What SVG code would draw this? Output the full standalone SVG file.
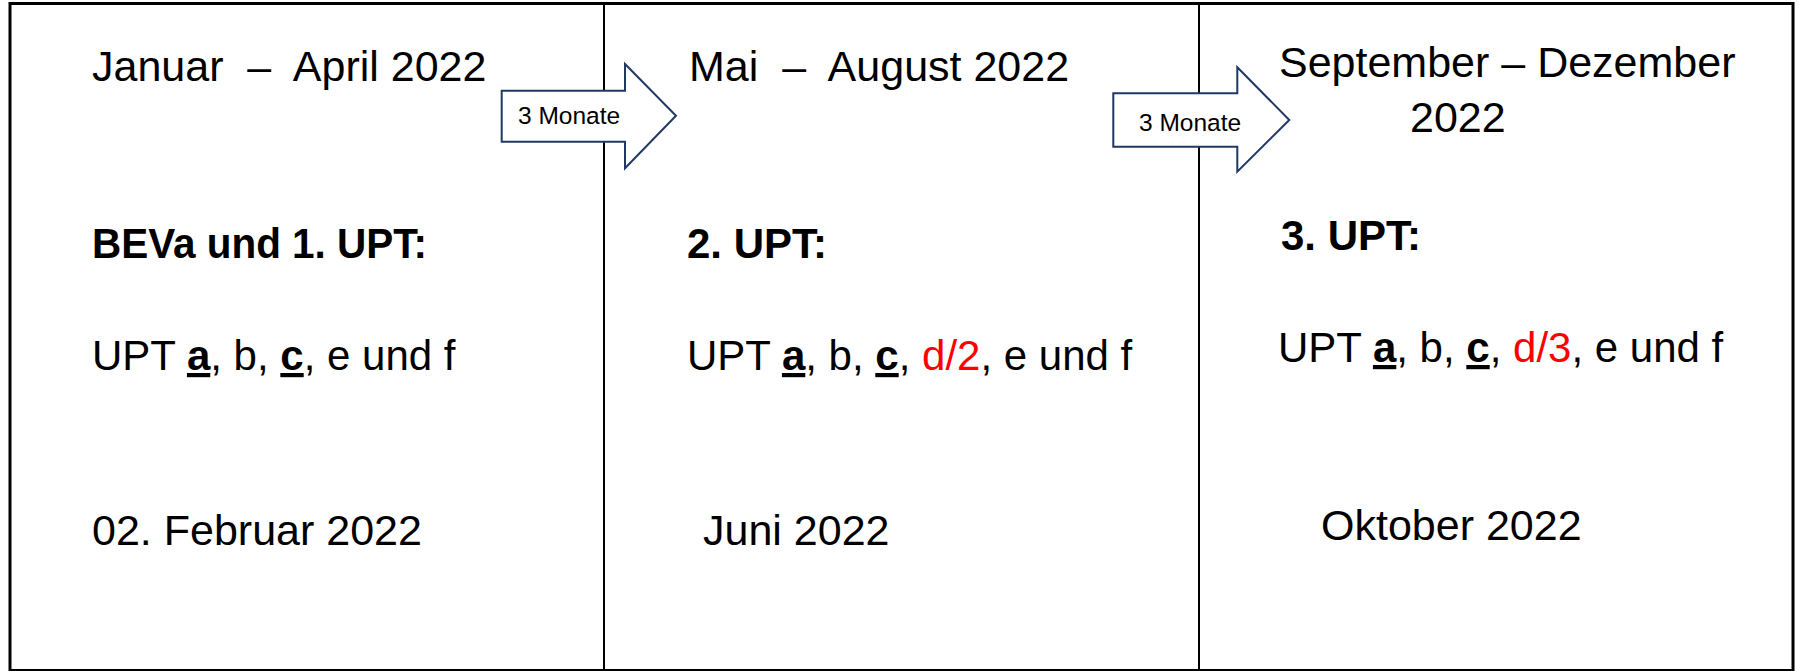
<svg xmlns="http://www.w3.org/2000/svg" width="1801" height="671" viewBox="0 0 1801 671">
<style>
.t{font-family:"Liberation Sans",Arial,sans-serif;font-size:42px;fill:#000;white-space:pre}
.h{font-size:43px}
.b{font-weight:bold}
.u{font-weight:bold;text-decoration:underline}
.r{fill:#FF0000}
.lbl{font-family:"Liberation Sans",Arial,sans-serif;font-size:24.5px;fill:#000}
.arr{fill:#fff;stroke:#203864;stroke-width:2;stroke-linejoin:miter}
.frame{fill:none;stroke:#000}
</style>
<rect width="1801" height="671" fill="#fff"/>
<g id="frame">
<rect class="frame" x="10" y="3.5" width="1783" height="667" stroke-width="3"/>
<line class="frame" x1="604" y1="3" x2="604" y2="671" stroke-width="2"/>
<line class="frame" x1="1199" y1="3" x2="1199" y2="671" stroke-width="2"/>
</g>
<g id="col1">
<text class="t h" x="92" y="81" xml:space="preserve">Januar  –  April 2022</text>
<text class="t b" x="92" y="258" textLength="335" lengthAdjust="spacingAndGlyphs">BEVa und 1. UPT:</text>
<text class="t" x="92" y="370">UPT <tspan class="u">a</tspan>, b, <tspan class="u">c</tspan>, e und f</text>
<text class="t h" x="92" y="545">02. Februar 2022</text>
</g>
<g id="col2">
<text class="t h" x="689" y="81" xml:space="preserve">Mai  –  August 2022</text>
<text class="t b" x="687" y="258">2. UPT:</text>
<text class="t" x="687" y="370">UPT <tspan class="u">a</tspan>, b, <tspan class="u">c</tspan>, <tspan class="r">d/2</tspan>, e und f</text>
<text class="t h" x="703" y="545">Juni 2022</text>
</g>
<g id="col3">
<text class="t h" x="1279" y="77">September – Dezember</text>
<text class="t h" x="1410" y="132">2022</text>
<text class="t b" x="1281" y="250">3. UPT:</text>
<text class="t" x="1278" y="362">UPT <tspan class="u">a</tspan>, b, <tspan class="u">c</tspan>, <tspan class="r">d/3</tspan>, e und f</text>
<text class="t h" x="1321" y="540">Oktober 2022</text>
</g>
<g id="connectors">
<g id="arrow1">
<path class="arr" d="M501.7,90.7 H625 V64 L676,115.7 L625,168.3 V141.7 H501.7 Z"/>
<text class="lbl" x="518" y="124">3 Monate</text>
</g>
<g id="arrow2">
<path class="arr" d="M1113.3,93.3 H1237.3 V67.3 L1289.3,120 L1237.3,171.7 V146.7 H1113.3 Z"/>
<text class="lbl" x="1139" y="130.5">3 Monate</text>
</g>
</g>
</svg>
